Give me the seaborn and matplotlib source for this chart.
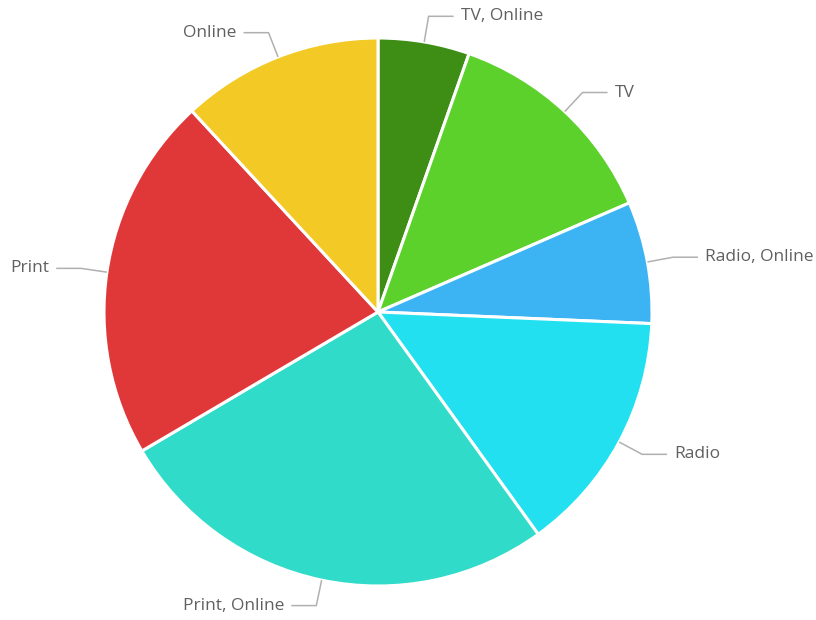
import numpy as np
import matplotlib
matplotlib.use("Agg")
import matplotlib.pyplot as plt
import seaborn as sns

# Media channel share
categories = ["TV, Online", "TV", "Radio, Online", "Radio", "Print, Online", "Print", "Online"]
shares = [5.4, 13.1, 7.2, 14.4, 26.5, 21.6, 11.9]
colors = ["#3e8e16", "#5dd12b", "#3cb4f4", "#22e0f0", "#31dbc9", "#e03838", "#f2c925"]

sns.set_theme(style="white")
plt.rcParams["font.family"] = ["Open Sans", "DejaVu Sans"]

W, H, DPI = 816, 620, 100
fig = plt.figure(figsize=(W / DPI, H / DPI), dpi=DPI)
ax = fig.add_axes([0, 0, 1, 1])

# pie centre / radius in pixels, mapped to data units
cx, cy, R = 378, 312, 274

wedges, _ = ax.pie(shares, colors=sns.color_palette(colors), startangle=90,
                   counterclock=False, radius=1.0,
                   wedgeprops=dict(edgecolor="white", linewidth=2.2))
ax.set_xlim(-cx / R, (W - cx) / R)
ax.set_ylim(-(H - cy) / R, cy / R)
ax.set_aspect("auto")
ax.axis("off")

# labels with elbow connectors
out = 26 / R
horiz = 25 / R
gap = 7 / R
for w, lab in zip(wedges, categories):
    mid = np.deg2rad((w.theta1 + w.theta2) / 2)
    ex, ey = np.cos(mid), np.sin(mid)
    bx, by = (1 + out) * ex, (1 + out) * ey
    side = 1 if ex >= 0 else -1
    hx = bx + side * horiz
    ax.plot([ex, bx, hx], [ey, by, by], color="#b0b0b0", lw=1.1,
            solid_capstyle="butt", zorder=1)
    ax.text(hx + side * gap, by, lab, ha="left" if side > 0 else "right",
            va="center", fontsize=12.5, color="#606060")

fig.savefig("out.png", dpi=DPI, facecolor="white")
